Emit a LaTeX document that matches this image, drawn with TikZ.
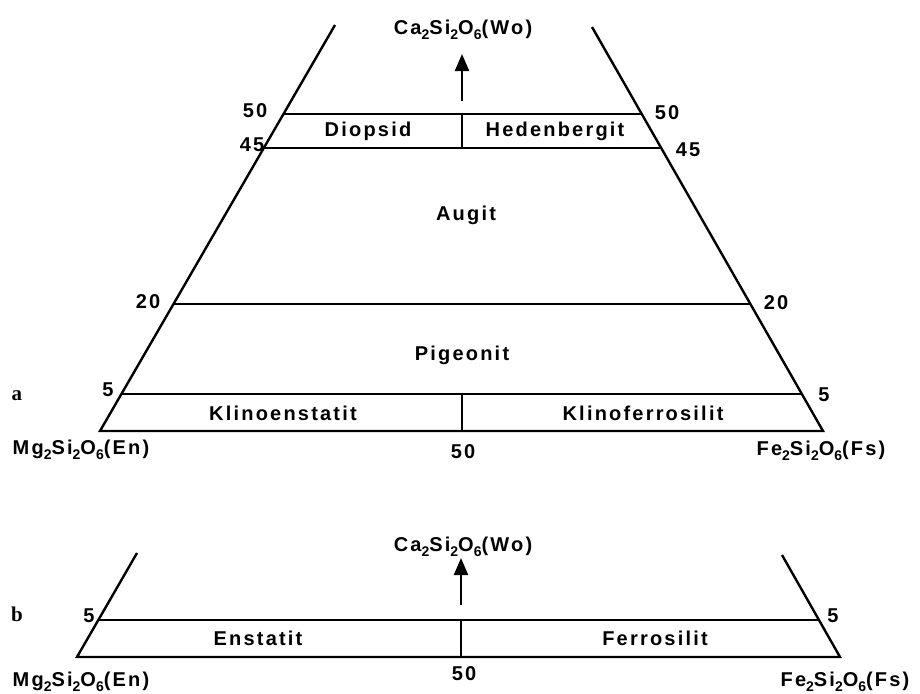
\documentclass[tikz,border=0pt]{standalone}
\usepackage{fontspec}
\setmainfont{Liberation Sans}[LetterSpace=11]
\newfontfamily\serifnr{Liberation Serif}
\usepackage{tikz}
\usetikzlibrary{arrows.meta}

\newcommand{\chsub}[1]{\raisebox{-0.45ex}{\fontsize{14}{14}\selectfont #1}}

\begin{document}
\begin{tikzpicture}[
x=1pt, y=-1pt,
font=\fontsize{20}{24}\selectfont\bfseries,
edge/.style={line width=2.4pt, line join=miter},
lvl/.style={line width=2.4pt},
lbl/.style={inner sep=0pt},
tag/.style={inner sep=0pt, font=\serifnr\fontsize{21}{24}\selectfont\bfseries},
arr/.style={-{Triangle[length=17pt,width=14pt]}, line width=2.2pt}
]
\useasboundingbox (0,0) rectangle (920,693);

% a) Klinopyroxene
\coordinate (aTl) at (335,25);
\coordinate (aTr) at (592,27);
\coordinate (aEn) at (100,431);
\coordinate (aFs) at (823,431);
\coordinate (aL50) at (283,114);
\coordinate (aR50) at (641,114);
\coordinate (aL45) at (264,148);
\coordinate (aR45) at (661,148);
\coordinate (aL20) at (174,304);
\coordinate (aR20) at (750,304);
\coordinate (aL5) at (121,394);
\coordinate (aR5) at (802,394);
\coordinate (aM50) at (462,114);
\coordinate (aM45) at (462,148);
\coordinate (aM5) at (462,394);
\coordinate (aM0) at (462,431);
\coordinate (aArrB) at (462,101);
\coordinate (aArrT) at (462,54);

\draw[edge] (aTl) -- (aEn) -- (aFs) -- (aTr);
\draw[lvl] (aL50) -- (aR50);
\draw[lvl] (aL45) -- (aR45);
\draw[lvl] (aL20) -- (aR20);
\draw[lvl] (aL5) -- (aR5);
\draw[lvl] (aM50) -- (aM45);
\draw[lvl] (aM5) -- (aM0);
\draw[arr] (aArrB) -- (aArrT);

\node[lbl] (aWo) at (463,30) {Ca\chsub{2}Si\chsub{2}O\chsub{6}(Wo)};
\node[lbl] (diop) at (368,131) {Diopsid};
\node[lbl] (hed) at (555,131) {Hedenbergit};
\node[lbl] (aug) at (466,215) {Augit};
\node[lbl] (pig) at (462,355) {Pigeonit};
\node[lbl] (klen) at (283,413) {Klinoenstatit};
\node[lbl] (klfs) at (643,413) {Klinoferrosilit};
\node[lbl] (aEnL) at (81,450) {Mg\chsub{2}Si\chsub{2}O\chsub{6}(En)};
\node[lbl] (aFsL) at (821,451) {Fe\chsub{2}Si\chsub{2}O\chsub{6}(Fs)};
\node[lbl] (aN50b) at (463,452) {50};
\node[lbl] (aNl50) at (255,111) {50};
\node[lbl] (aNr50) at (667,113) {50};
\node[lbl] (aNl45) at (252,145) {45};
\node[lbl] (aNr45) at (688,150) {45};
\node[lbl] (aNl20) at (148,302) {20};
\node[lbl] (aNr20) at (776,303) {20};
\node[lbl] (aNl5) at (108,390) {5};
\node[lbl] (aNr5) at (824,395) {5};
\node[tag] (tagA) at (17,396) {a};

% b) Orthopyroxene
\coordinate (bTl) at (137,553);
\coordinate (bTr) at (782,555);
\coordinate (bEn) at (77,657);
\coordinate (bFs) at (840,657);
\coordinate (bL5) at (98,620);
\coordinate (bR5) at (819,620);
\coordinate (bM5) at (461,620);
\coordinate (bM0) at (461,657);
\coordinate (bArrB) at (461,605);
\coordinate (bArrT) at (461,558);

\draw[edge] (bTl) -- (bEn) -- (bFs) -- (bTr);
\draw[lvl] (bL5) -- (bR5);
\draw[lvl] (bM5) -- (bM0);
\draw[arr] (bArrB) -- (bArrT);

\node[lbl] (bWo) at (463,547) {Ca\chsub{2}Si\chsub{2}O\chsub{6}(Wo)};
\node[lbl] (enst) at (258,638) {Enstatit};
\node[lbl] (ferr) at (655,638) {Ferrosilit};
\node[lbl] (bEnL) at (81,682) {Mg\chsub{2}Si\chsub{2}O\chsub{6}(En)};
\node[lbl] (bFsL) at (845,682) {Fe\chsub{2}Si\chsub{2}O\chsub{6}(Fs)};
\node[lbl] (bN50b) at (464,674) {50};
\node[lbl] (bNl5) at (89,616) {5};
\node[lbl] (bNr5) at (833,616) {5};
\node[tag] (tagB) at (17,614) {b};
\end{tikzpicture}
\end{document}
